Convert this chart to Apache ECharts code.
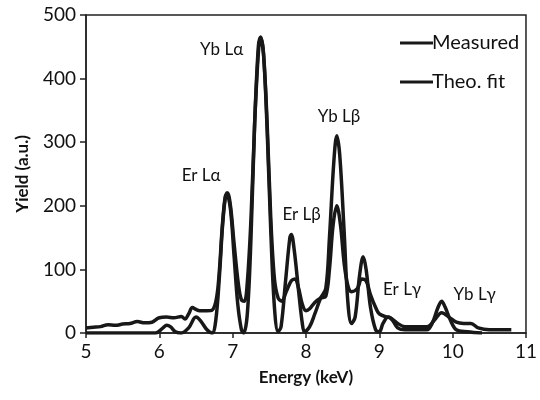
<!DOCTYPE html>
<html>
<head>
<meta charset="utf-8">
<script src="https://cdn.jsdelivr.net/npm/echarts@6/dist/echarts.min.js"></script>
<style>html,body{margin:0;padding:0;background:#fff;}#c{width:540px;height:400px;}</style>
</head>
<body>
<div id="c"></div>
<script>
// Measured spectrum (energy keV, yield a.u.)
var measuredE = [5.0,5.1,5.2,5.3,5.4,5.5,5.6,5.7,5.8,5.9,6.0,6.1,6.2,6.3,6.35,6.4,6.45,6.5,6.55,6.65,6.72,6.78,6.82,6.86,6.9,6.93,6.97,7.02,7.08,7.12,7.16,7.2,7.25,7.3,7.35,7.38,7.42,7.47,7.52,7.57,7.62,7.67,7.73,7.8,7.85,7.9,7.95,8.0,8.05,8.12,8.2,8.27,8.32,8.37,8.42,8.47,8.52,8.57,8.62,8.7,8.76,8.82,8.88,8.95,9.0,9.1,9.15,9.25,9.35,9.5,9.65,9.75,9.85,9.95,10.05,10.15,10.25,10.35,10.5,10.8];
var measuredY = [8,9,10,13,12,14,15,18,16,17,24,25,24,26,22,30,40,37,35,35,36,55,100,170,215,220,200,140,75,52,50,80,180,330,440,465,440,330,180,85,55,50,65,82,85,70,45,35,38,48,55,58,100,170,200,170,110,75,65,70,85,82,60,40,30,25,24,15,10,10,10,20,32,25,17,15,15,8,5,5];
// Theoretical fit
var fitE = [5.0,5.95,6.05,6.1,6.15,6.22,6.3,6.4,6.5,6.57,6.65,6.72,6.77,6.82,6.87,6.92,6.97,7.02,7.07,7.12,7.15,7.2,7.25,7.3,7.35,7.38,7.42,7.47,7.52,7.57,7.62,7.66,7.72,7.78,7.8,7.84,7.9,7.95,7.98,8.05,8.12,8.2,8.27,8.32,8.38,8.42,8.46,8.52,8.57,8.62,8.67,8.73,8.78,8.82,8.88,8.95,9.0,9.05,9.12,9.18,9.25,9.35,9.5,9.65,9.72,9.8,9.85,9.9,9.97,10.05,10.2,10.4];
var fitY = [0,0,8,12,10,2,0,8,25,18,5,0,20,90,180,220,195,120,45,5,0,30,150,330,450,465,440,320,160,40,2,10,80,150,155,130,65,15,2,10,30,55,70,150,270,310,280,160,50,15,25,90,120,100,40,5,2,15,25,20,8,5,5,5,15,40,50,40,20,5,2,0];
// Peak annotations
var peakNames = ['Yb Lα','Er Lα','Er Lβ','Yb Lβ','Er Lγ','Yb Lγ'];
var peakE = [6.85,6.57,7.94,8.45,9.31,10.3];
var peakY = [445,247,186,340,68,60];
var xTicks = [5,6,7,8,9,10,11];
var yTicks = [0,100,200,300,400,500];

function pairs(a,b){return a.map(function(v,i){return [v,b[i]];});}
var font = 'Lato, "Open Sans", sans-serif';
var lineColor = '#181818';
var txt = '#111';

var chart = echarts.init(document.getElementById('c'), null, {renderer:'canvas'});
chart.setOption({
  animation:false,
  backgroundColor:'#fff',
  grid:{left:86,right:13,top:15,bottom:67,show:true,borderColor:'#222',borderWidth:1.5,backgroundColor:'transparent'},
  legend:{
    orient:'vertical', left:395, top:28, itemGap:19, itemWidth:33, itemHeight:3,
    icon:'rect',
    textStyle:{fontFamily:font,fontSize:20,color:txt,padding:[0,0,0,-6]},
    data:['Measured','Theo. fit']
  },
  xAxis:{
    type:'value', min:xTicks[0], max:xTicks[xTicks.length-1], interval:1,
    name:'Energy (keV)', nameLocation:'middle', nameGap:36,
    nameTextStyle:{fontFamily:font,fontSize:17,fontWeight:'bold',color:txt},
    axisLine:{lineStyle:{color:'#222',width:1.5}},
    axisTick:{show:true,length:5,inside:false,lineStyle:{color:'#222',width:1.5}},
    axisLabel:{fontFamily:font,fontSize:19,color:txt,margin:9},
    splitLine:{show:false}
  },
  yAxis:{
    type:'value', min:yTicks[0], max:yTicks[yTicks.length-1], interval:100,
    name:'Yield (a.u.)', nameLocation:'middle', nameGap:55, nameRotate:90,
    nameTextStyle:{fontFamily:font,fontSize:17,fontWeight:'bold',color:txt},
    axisLine:{show:true,lineStyle:{color:'#222',width:1.5}},
    axisTick:{show:true,length:6,lineStyle:{color:'#222',width:1.5}},
    axisLabel:{fontFamily:font,fontSize:19,color:txt,margin:10},
    splitLine:{show:false}
  },
  series:[
    {name:'Measured',type:'line',data:pairs(measuredE,measuredY),showSymbol:false,smooth:0.35,
     lineStyle:{color:lineColor,width:3.5},itemStyle:{color:lineColor},
     markPoint:{symbol:'circle',symbolSize:0,silent:true,
       label:{show:true,position:'inside',fontFamily:font,fontSize:17,color:txt,
         formatter:function(p){return p.name;}},
       data:peakNames.map(function(n,i){return {name:n,coord:[peakE[i],peakY[i]]};})}
    },
    {name:'Theo. fit',type:'line',data:pairs(fitE,fitY),showSymbol:false,smooth:0.35,
     lineStyle:{color:lineColor,width:3.5},itemStyle:{color:lineColor}}
  ]
});
</script>
</body>
</html>
